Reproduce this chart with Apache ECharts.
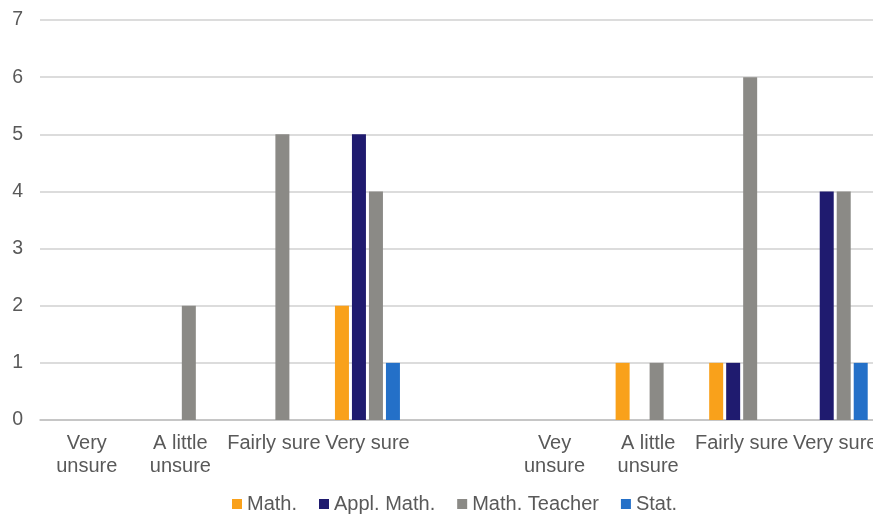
<!DOCTYPE html>
<html>
<head>
<meta charset="utf-8">
<script src="https://cdn.jsdelivr.net/npm/echarts@6/dist/echarts.min.js"></script>
<style>html,body{margin:0;padding:0;background:#fff;}#c{width:873px;height:515px;}</style>
</head>
<body>
<div id="c"></div>
<script>
const categories = ["Very\nunsure", "A little\nunsure", "Fairly sure", "Very sure", "", "Vey\nunsure", "A little\nunsure", "Fairly sure", "Very sure"];
const seriesNames = ["Math.", "Appl. Math.", "Math. Teacher", "Stat."];
const mathVals = [0, 0, 0, 2, 0, 0, 1, 1, 0];
const applMathVals = [0, 0, 0, 5, 0, 0, 0, 1, 4];
const teacherVals = [0, 2, 5, 4, 0, 0, 1, 6, 4];
const statVals = [0, 0, 0, 1, 0, 0, 0, 0, 1];
const yTicks = [0, 7, 1];

const colors = ['#F9A11B', '#1F1B6F', '#8B8A86', '#2470C8'];
const font = 'Liberation Sans, Arial, sans-serif';
const textColor = '#595959';

const chart = echarts.init(document.getElementById('c'), null, {renderer: 'canvas'});
const allVals = [mathVals, applMathVals, teacherVals, statVals];
chart.setOption({
  animation: false,
  color: colors,
  textStyle: {fontFamily: font},
  grid: {left: 40, top: 20, right: -9, bottom: 95, containLabel: false, outerBoundsMode: 'none'},
  legend: {
    data: seriesNames,
    left: 227,
    top: 489,
    icon: 'rect',
    itemWidth: 10,
    itemHeight: 10,
    itemGap: 22,
    textStyle: {fontSize: 20, color: textColor, fontFamily: font}
  },
  xAxis: {
    type: 'category',
    data: categories,
    axisTick: {show: false},
    axisLine: {lineStyle: {color: '#bfbfbf', width: 1.5}},
    axisLabel: {interval: 0, fontSize: 20, lineHeight: 23, color: textColor, margin: 12, fontFamily: font}
  },
  yAxis: {
    type: 'value',
    min: yTicks[0],
    max: yTicks[1],
    interval: yTicks[2],
    axisLine: {show: false},
    axisTick: {show: false},
    axisLabel: {fontSize: 19.5, color: textColor, margin: 17, fontFamily: font},
    splitLine: {lineStyle: {color: '#d0d0d0', width: 1.5}}
  },
  series: seriesNames.map((n, i) => ({
    name: n,
    type: 'bar',
    data: allVals[i],
    barWidth: 14,
    barGap: '21.4%',
    itemStyle: {color: colors[i]}
  }))
});
</script>
</body>
</html>
